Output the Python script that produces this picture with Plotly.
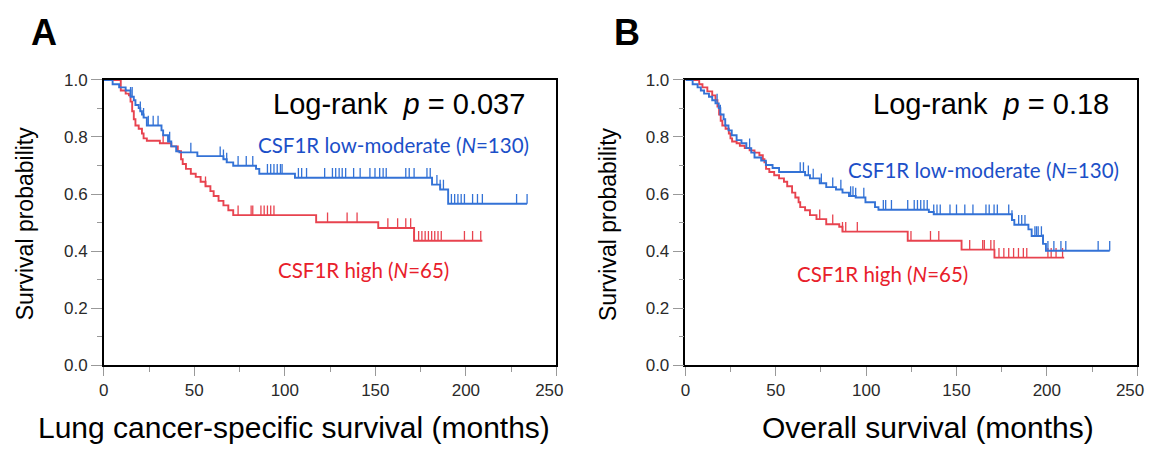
import plotly.graph_objects as go

W, H = 1166, 459

# ---------------- Data ----------------
# Panel A: lung cancer-specific survival
a_low_t = [0, 4.9, 8.5, 12.1, 14.8, 16.6, 17.5, 19.3, 20.2, 21.1, 22, 23.8, 31.9, 32.8, 35.5, 37.3,
           40, 41.8, 51.7, 66.1, 67.9, 71.5, 84.1, 85.9, 105.6, 181.3, 185.8, 190.2]
a_low_s = [1.0, 0.985, 0.974, 0.963, 0.941, 0.929, 0.912, 0.901, 0.89, 0.879, 0.868, 0.84, 0.823, 0.806,
           0.784, 0.767, 0.75, 0.746, 0.733, 0.722, 0.711, 0.699, 0.688, 0.671, 0.657, 0.633, 0.616, 0.566]
a_low_end = 233.8
a_low_cens = [14.8, 15.7, 20.2, 22, 24.6, 27.3, 30, 36.4, 48.1, 64.3, 66.1, 67.9, 74.2, 78.7, 82.3,
              90.4, 92.2, 94, 95.8, 97.6, 98.5, 107.5, 109.3, 112, 122, 126.3, 128.1, 130, 131.7, 133.6,
              138, 141.6, 147, 149.8, 152.4, 154.3, 156, 166.8, 168.7, 171.4, 178.5, 180.3, 184, 185.8,
              187.6, 192, 193.8, 195.6, 197.4, 199.2, 203.7, 206.4, 209.1, 228, 233.8]

a_high_t = [0, 9.4, 12.1, 13.9, 14.8, 15.7, 16.6, 17.5, 19.3, 21.1, 22, 23.8, 31, 37.3, 40.9, 42.7,
            43.6, 45.4, 48.1, 50.8, 53.5, 56.2, 58.9, 60.7, 63.4, 66.1, 68.8, 71.5, 117.3, 151.6, 171.4]
a_high_s = [1.0, 0.963, 0.952, 0.946, 0.924, 0.89, 0.862, 0.84, 0.829, 0.812, 0.795, 0.787, 0.778,
            0.767, 0.75, 0.722, 0.705, 0.688, 0.671, 0.66, 0.643, 0.627, 0.61, 0.593, 0.576, 0.56,
            0.543, 0.526, 0.501, 0.481, 0.436]
a_high_end = 209.1
a_high_cens = [32.8, 56.2, 74.2, 81.4, 82.3, 86.8, 88.6, 90.4, 92.2, 94, 123.6, 134.4, 139.9, 156.9,
               162.3, 166.8, 169.5, 171.4, 173.9, 175.7, 177.5, 179.3, 181.1, 182.8, 184.6, 186.4,
               199.2, 203.7, 208.2]

# Panel B: overall survival
b_low_t = [0, 3.96, 6.7, 8.5, 10.3, 13, 14.8, 16.6, 18.4, 19.3, 21.1, 22, 23.8, 25.6, 28.3, 31, 33.7,
           36.4, 38.2, 41.9, 44.5, 48.2, 51.8, 66.2, 68.9, 74.3, 77.9, 83.3, 86.9, 90.5, 94.2, 99.6,
           104.9, 106.8, 134.7, 137.4, 180.7, 182, 189.8, 191.6, 197.9, 199.5]
b_low_s = [1.0, 0.985, 0.974, 0.963, 0.952, 0.941, 0.929, 0.918, 0.901, 0.879, 0.862, 0.84, 0.823,
           0.806, 0.789, 0.778, 0.761, 0.745, 0.728, 0.717, 0.702, 0.691, 0.677, 0.666, 0.655, 0.638,
           0.624, 0.616, 0.605, 0.593, 0.588, 0.571, 0.554, 0.545, 0.537, 0.529, 0.509, 0.492, 0.476,
           0.453, 0.425, 0.401]
b_low_end = 234.8
b_low_cens = [17.5, 19.3, 35.5, 63.5, 65.3, 68, 70.7, 75.2, 81.5, 86, 91.4, 92.7, 94.2, 98.7, 109.5,
              110.8, 114, 123, 126.6, 128.4, 130.2, 132, 133.8, 137.4, 139.2, 141, 146.4, 150, 154.6,
              159.1, 166.3, 168.1, 170.8, 172.6, 178.9, 180.7, 184.4, 186.1, 187.9, 193.4, 194.3,
              195.2, 197, 197.9, 200.6, 203.9, 207.8, 210.5, 228.4, 234.8]

b_high_t = [0, 7.6, 9.4, 12.1, 14.8, 16.6, 17.7, 18.6, 19.5, 20.4, 22.2, 24, 24.9, 25.8, 28.3, 30.1,
            32.8, 35.5, 38.2, 40.9, 42.8, 43.7, 44.6, 46.4, 49.1, 51.8, 54.5, 56.3, 59, 60.8, 62.6,
            63.5, 66.2, 68.9, 72.5, 77.9, 85.1, 86.9, 123, 152.8, 171]
b_high_s = [1.0, 0.985, 0.974, 0.96, 0.946, 0.929, 0.907, 0.879, 0.857, 0.84, 0.829, 0.812, 0.795,
            0.784, 0.778, 0.769, 0.761, 0.753, 0.745, 0.736, 0.722, 0.711, 0.688, 0.677, 0.666, 0.655,
            0.643, 0.627, 0.605, 0.588, 0.571, 0.554, 0.543, 0.526, 0.512, 0.494, 0.485, 0.468, 0.436,
            0.405, 0.377]
b_high_end = 209.6
b_high_cens = [74.3, 81.5, 86.9, 88.7, 95.1, 124.8, 135.6, 140.2, 157.3, 164.5, 165.4, 169, 170.8,
               173.5, 176.2, 178.9, 181.6, 184.3, 187, 188.9, 200.6, 202.4, 205.1, 208.7]

x_ticks = [0, 50, 100, 150, 200, 250]
x_tick_labels = ["0", "50", "100", "150", "200", "250&nbsp;&nbsp;&nbsp;"]
y_ticks = [0.0, 0.2, 0.4, 0.6, 0.8, 1.0]

# ---------------- Styling ----------------
BLUE_LINE = "#3372d6"
RED_LINE = "#e8434f"
BLUE_TEXT = "#1b4fc8"
RED_TEXT = "#e8202a"
CENS_H = 0.034


def surv_at(t, s, x):
    v = s[0]
    for ti, si in zip(t, s):
        if ti <= x:
            v = si
        else:
            break
    return v


def add_curve(fig, t, s, end, cens, color, xa, ya):
    fig.add_trace(go.Scatter(x=list(t) + [end], y=list(s) + [s[-1]], mode="lines",
                             line=dict(color=color, width=1.9, shape="hv"),
                             xaxis=xa, yaxis=ya, showlegend=False, hoverinfo="skip"))
    cx, cy = [], []
    for c in cens:
        v = surv_at(t, s, c)
        cx += [c, c, None]
        cy += [v, v + CENS_H, None]
    fig.add_trace(go.Scatter(x=cx, y=cy, mode="lines", line=dict(color=color, width=1.3),
                             xaxis=xa, yaxis=ya, showlegend=False, hoverinfo="skip"))


fig = go.Figure()
add_curve(fig, a_high_t, a_high_s, a_high_end, a_high_cens, RED_LINE, "x", "y")
add_curve(fig, a_low_t, a_low_s, a_low_end, a_low_cens, BLUE_LINE, "x", "y")
add_curve(fig, b_high_t, b_high_s, b_high_end, b_high_cens, RED_LINE, "x2", "y2")
add_curve(fig, b_low_t, b_low_s, b_low_end, b_low_cens, BLUE_LINE, "x2", "y2")


def px_x(p):
    return p / W


def px_y(p):
    return 1 - p / H


tickfont = dict(family="Liberation Sans, Arial, sans-serif", size=17, color="#2a2a2a")
common_x = dict(range=[0, 250], tickvals=x_ticks, ticktext=x_tick_labels, ticks="outside",
                ticklen=9, tickcolor="#999", tickwidth=1, showline=True, linecolor="black",
                linewidth=1.5, mirror=True, showgrid=False, zeroline=False, tickfont=tickfont,
                minor=dict(dtick=25, ticks="outside", ticklen=5, tickcolor="#999"))
common_y = dict(range=[0, 1.0], tickvals=y_ticks, tickformat=".1f", ticks="outside", ticklen=11,
                tickcolor="#999", tickwidth=1, showline=True, linecolor="black", linewidth=1.5,
                mirror=True, showgrid=False, zeroline=False, tickfont=tickfont,
                minor=dict(dtick=0.1, ticks="outside", ticklen=5, tickcolor="#999"))

yd = [px_y(371.5), px_y(74)]
fig.update_layout(
    width=W, height=H, margin=dict(l=0, r=0, t=0, b=0),
    paper_bgcolor="white", plot_bgcolor="white",
    xaxis=dict(domain=[px_x(101), px_x(564)], anchor="y", **common_x),
    yaxis=dict(domain=yd, anchor="x", **common_y),
    xaxis2=dict(domain=[px_x(696), px_x(1158)], anchor="y2", **common_x),
    yaxis2=dict(domain=yd, anchor="x2", **common_y),
)

ARIAL = "Liberation Sans, Arial, sans-serif"
LABF = "Lato, Calibri, sans-serif"


def ann(text, x, y, size, color="black", family=ARIAL, xanchor="center", angle=0, bold=False):
    fig.add_annotation(text=("<b>%s</b>" % text) if bold else text, x=px_x(x), y=px_y(y),
                       xref="paper", yref="paper", showarrow=False, xanchor=xanchor,
                       yanchor="middle", textangle=angle,
                       font=dict(family=family, size=size, color=color))


ann("A", 40, 25, 36, bold=True)
ann("B", 636, 25, 36, bold=True)

ann("Log-rank&nbsp; <i>p</i> = 0.037", 534, 99, 29, xanchor="right")
ann("Log-rank&nbsp; <i>p</i> = 0.18", 1131, 99, 29, xanchor="right")

ann("CSF1R low-moderate (<i>N</i>=130)", 538, 142, 20.5, BLUE_TEXT, LABF, xanchor="right")
ann("CSF1R high (<i>N</i>=65)", 277, 272, 20.5, RED_TEXT, LABF, xanchor="left")
ann("CSF1R low-moderate (<i>N</i>=130)", 1141, 168, 20.5, BLUE_TEXT, LABF, xanchor="right")
ann("CSF1R high (<i>N</i>=65)", 808, 276, 20.5, RED_TEXT, LABF, xanchor="left")

ann("Survival probability", 20, 224, 23, angle=-90)
ann("Survival probability", 616, 224, 23, angle=-90)

ann("Lung cancer-specific survival (months)", 296, 437, 30)
ann("Overall survival (months)", 944, 437, 30)

fig.write_html("out.html", config={"displayModeBar": False},
               post_script="document.body.style.margin='0';document.body.style.overflow='hidden';")
